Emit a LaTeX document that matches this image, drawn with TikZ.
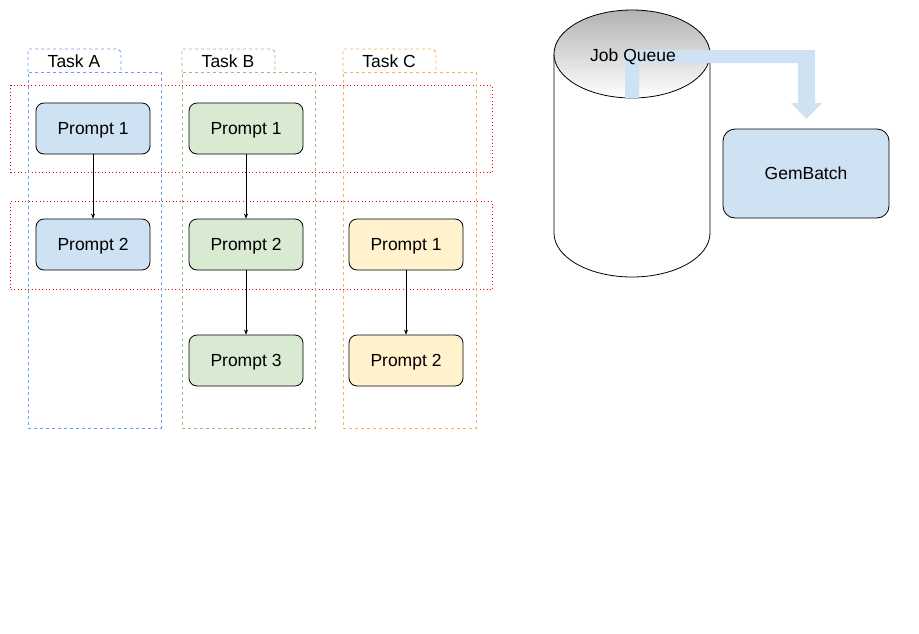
\documentclass[tikz,border=0pt]{standalone}
\usepackage{fontspec}
\setmainfont{Liberation Sans}
\usetikzlibrary{arrows.meta}
\definecolor{tblue}{HTML}{6D9EEB}
\definecolor{tgreen}{HTML}{93C47D}
\definecolor{torange}{HTML}{F6B26B}
\definecolor{pblue}{HTML}{CFE2F3}
\definecolor{pgreen}{HTML}{D9EAD3}
\definecolor{pyellow}{HTML}{FFF2CC}
\begin{document}
\begin{tikzpicture}[x=1pt,y=-1pt,
  prompt/.style={draw=black, line width=0.8pt, rounded corners=8pt, minimum width=114pt, minimum height=51pt, inner sep=0pt, font=\fontsize{17.5}{20}\selectfont, text height=12.5pt, text depth=0pt},
  tasktab/.style={dashed, dash pattern=on 3pt off 3pt, line width=0.8pt},
  lane/.style={draw, dashed, dash pattern=on 3pt off 3pt, line width=0.8pt},
  row/.style={draw=red, line width=1pt, dash pattern=on 1pt off 2.5pt},
  flow/.style={-{Stealth[length=5pt,width=4pt]}, line width=0.6pt},
  lbl/.style={font=\fontsize{17.5}{20}\selectfont, inner sep=0pt, text height=12.5pt, text depth=0pt}]
\useasboundingbox[fill=white] (0,0) rectangle (919,633);

% red dotted rows
\node[row, minimum width=482pt, minimum height=87pt, anchor=north west, inner sep=0pt] (row1) at (10,85) {};
\node[row, minimum width=482pt, minimum height=88pt, anchor=north west, inner sep=0pt] (row2) at (10,201) {};

% lanes
\node[lane, draw=tblue, minimum width=133pt, minimum height=356pt, anchor=north west, inner sep=0pt] (laneA) at (28,72) {};
\node[lane, draw=tgreen, minimum width=133pt, minimum height=356pt, anchor=north west, inner sep=0pt] (laneB) at (182,72) {};
\node[lane, draw=torange, minimum width=133pt, minimum height=356pt, anchor=north west, inner sep=0pt] (laneC) at (343,72) {};

% tabs
\draw[tasktab, draw=tblue] (28,72) -- (28,49) -- (118,49) -- (121,52) -- (121,72);
\draw[tasktab, draw=tgreen] (182,72) -- (182,49) -- (272,49) -- (275,52) -- (275,72);
\draw[tasktab, draw=torange] (343,72) -- (343,49) -- (433,49) -- (436,52) -- (436,72);
\node[lbl] (tA) at (74,61) {Task A};
\node[lbl] (tB) at (228,61) {Task B};
\node[lbl] (tC) at (389,61) {Task C};

% prompts
\node[prompt, fill=pblue] (a1) at (93,128.5) {Prompt 1};
\node[prompt, fill=pblue] (a2) at (93,244.5) {Prompt 2};
\node[prompt, fill=pgreen] (b1) at (246,128.5) {Prompt 1};
\node[prompt, fill=pgreen] (b2) at (246,244.5) {Prompt 2};
\node[prompt, fill=pgreen] (b3) at (246,360.5) {Prompt 3};
\node[prompt, fill=pyellow] (c1) at (406,244.5) {Prompt 1};
\node[prompt, fill=pyellow] (c2) at (406,360.5) {Prompt 2};

\draw[flow] (a1) -- (a2);
\draw[flow] (b1) -- (b2);
\draw[flow] (b2) -- (b3);
\draw[flow] (c1) -- (c2);

% cylinder
\draw[line width=0.8pt, fill=white] (554,54) -- (554,233) arc[start angle=180, end angle=0, x radius=78, y radius=44] -- (710,54);
\draw[line width=0.8pt, top color=black!30, bottom color=white] (632,54) ellipse[x radius=78, y radius=44];

% flow arrow
\fill[pblue] (625,98) -- (625,50) -- (815,50) -- (815,103) -- (822,103) -- (806.5,119) -- (791,103) -- (798,103) -- (798,63) -- (639,63) -- (639,98) -- cycle;

\node[lbl] (jq) at (633,55) {Job Queue};

% GemBatch
\node[prompt, fill=pblue, minimum width=166pt, minimum height=89pt, rounded corners=12pt] (gb) at (806,173.5) {GemBatch};
\end{tikzpicture}
\end{document}
